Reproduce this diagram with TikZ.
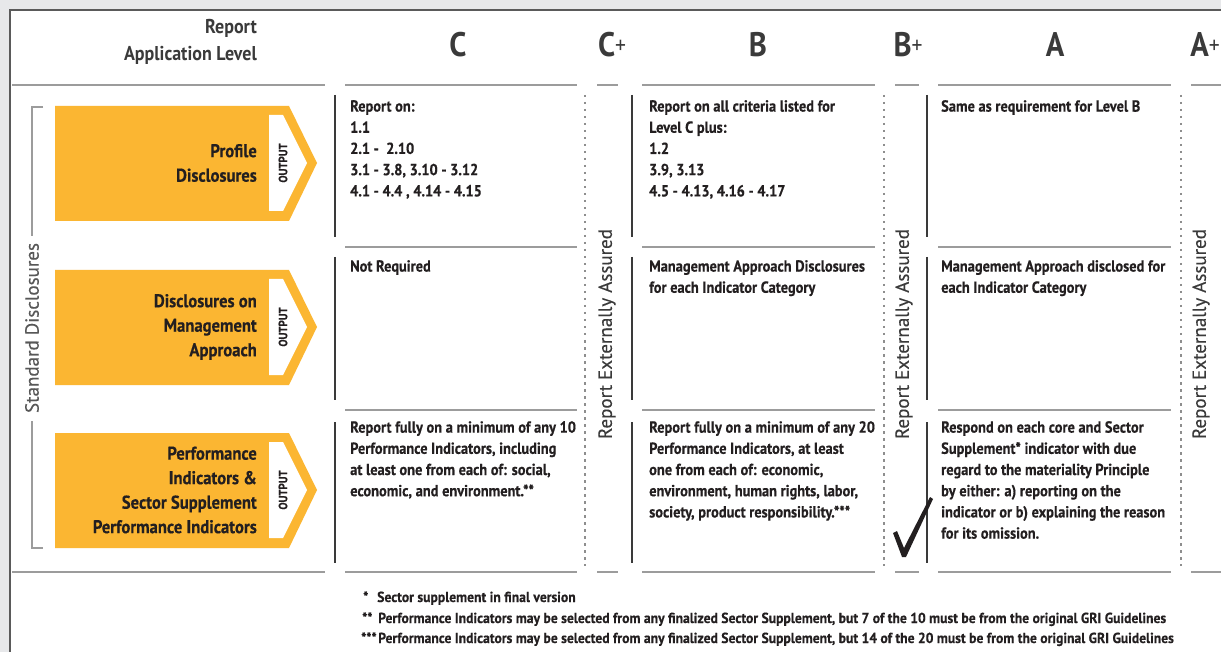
\documentclass[tikz,border=0pt]{standalone}
\usepackage{fontspec}
\setmainfont{PT Sans}[FakeStretch=0.9,BoldFeatures={FakeBold=0.4}]
\newfontfamily\rotfont{PT Sans}[FakeStretch=1.0,FakeBold=0.25]
\newfontfamily\hdrfont{PT Sans}[FakeStretch=0.9]
\newfontfamily\footfont{PT Sans}[FakeStretch=0.94,BoldFeatures={FakeBold=0.4}]
\definecolor{bggray}{HTML}{E7E8EA}
\definecolor{panelline}{HTML}{5A5A5A}
\definecolor{orangeC}{HTML}{FBB632}
\definecolor{txt}{HTML}{231F20}
\definecolor{hdrtxt}{HTML}{3A3A3A}
\definecolor{linegray}{HTML}{9C9C9C}
\definecolor{vline}{HTML}{3A3A3A}
\definecolor{dotgray}{HTML}{8E8E8E}
\tikzset{
  hline/.style={draw=linegray,line width=2pt},
  vsolid/.style={draw=vline,line width=1.6pt},
  vdot/.style={draw=dotgray,line width=1.5pt,dash pattern=on 2.5pt off 4.5pt},
  bracketline/.style={draw=linegray,line width=1.6pt},
  hdr/.style={font=\hdrfont\fontsize{34}{34}\selectfont\bfseries,text=hdrtxt,inner sep=0pt},
  cell/.style={font=\fontsize{16}{21.2}\selectfont\bfseries,text=txt,align=left,anchor=north west,inner sep=0pt},
  boxlabel/.style={font=\fontsize{18.5}{24.5}\selectfont\bfseries,text=txt,align=right,anchor=east,inner sep=0pt},
  outtxt/.style={font=\fontsize{12}{12}\selectfont\bfseries,text=txt,rotate=90,inner sep=0pt},
  rottxt/.style={font=\rotfont\fontsize{19}{19}\selectfont,text=hdrtxt,rotate=90,inner sep=0pt},
  foot/.style={font=\footfont\fontsize{14.5}{14.5}\selectfont\bfseries,text=txt,anchor=base west,inner sep=0pt},
}
\newcommand{\plusmark}{\raisebox{3pt}{\hdrfont\fontsize{24}{24}\selectfont\mdseries +}}
\begin{document}
\begin{tikzpicture}[x=1pt,y=-1pt]
\useasboundingbox (0,0) rectangle (1221,652);
\fill[bggray] (0,0) rectangle (1221,652);
\fill[white] (10,10) rectangle (1221,652);
\draw[panelline,line width=1.5pt] (10,652) -- (10,10) -- (1221,10);

% header
\node[font=\hdrfont\fontsize{20}{27}\selectfont\bfseries,text=hdrtxt,align=right,anchor=east,inner sep=0pt] (applevel) at (257,42) {Report\\Application Level};
\node[hdr] (hC) at (458,45) {C};
\node[hdr] (hCp) at (612,45) {C\plusmark};
\node[hdr] (hB) at (758,45) {B};
\node[hdr] (hBp) at (908,45) {B\plusmark};
\node[hdr] (hA) at (1055,45) {A};
\node[hdr] (hAp) at (1205,45) {A\plusmark};

% horizontal lines
\foreach \y in {85,572}{
  \foreach \a/\b in {12/325,345/577,597/618,642/875,895/919,938/1171,1191/1221}
    \draw[hline] (\a,\y) -- (\b,\y);
}
\foreach \y in {247,410}{
  \foreach \a/\b in {345/577,642/875,938/1171}
    \draw[hline] (\a,\y) -- (\b,\y);
}
% vertical lines
\foreach \x in {335,632,927}{
  \foreach \a/\b in {95/237,257/400,422/563}
    \draw[vsolid] (\x,\a) -- (\x,\b);
}
\foreach \x in {585,884,1181}
  \draw[vdot] (\x,95) -- (\x,566);

% externally assured
\node[rottxt] (eaC) at (607,334) {Report Externally Assured};
\node[rottxt] (eaB) at (904,334) {Report Externally Assured};
\node[rottxt] (eaA) at (1201,334) {Report Externally Assured};

% standard disclosures bracket
\draw[bracketline] (43,107) -- (32,107) -- (32,236);
\draw[bracketline] (32,421) -- (32,548) -- (43,548);
\node[rottxt,text=hdrtxt!85] (sd) at (32,328) {Standard Disclosures};

% orange boxes
\foreach \t/\n in {106/1,270/2,433/3}{
  \fill[orangeC] (55,\t) -- (289,\t) -- (317,\t+57) -- (289,\t+115) -- (55,\t+115) -- cycle;
  \fill[white] (269,\t+9) -- (283,\t+9) -- (307,\t+57) -- (283,\t+105) -- (269,\t+105) -- cycle;
  \node[outtxt] (out\n) at (283,\t+57) {OUTPUT};
}
\node[boxlabel] (lab1) at (257,163) {Profile\\Disclosures};
\node[boxlabel] (lab2) at (257,327) {Disclosures on\\Management\\Approach};
\node[boxlabel] (lab3) at (257,490) {Performance\\Indicators \&\\Sector Supplement\\Performance Indicators};

% cells
\node[cell] (c1) at (350,100) {Report on:\\1.1\\2.1 -\ \ 2.10\\3.1 - 3.8, 3.10 - 3.12\\4.1 - 4.4 , 4.14 - 4.15};
\node[cell] (b1) at (649,100) {Report on all criteria listed for\\Level C plus:\\1.2\\3.9, 3.13\\4.5 - 4.13, 4.16 - 4.17};
\node[cell] (a1) at (941,100) {Same as requirement for Level B};
\node[cell] (c2) at (350,260) {Not Required};
\node[cell] (b2) at (649,260) {Management Approach Disclosures\\for each Indicator Category};
\node[cell] (a2) at (941,260) {Management Approach disclosed for\\each Indicator Category};
\node[cell] (c3) at (350,421) {Report fully on a minimum of any 10\\Performance Indicators, including\\at least one from each of: social,\\economic, and environment.**};
\node[cell] (b3) at (649,421) {Report fully on a minimum of any 20\\Performance Indicators, at least\\one from each of: economic,\\environment, human rights, labor,\\society, product responsibility.***};
\node[cell] (a3) at (941,421) {Respond on each core and Sector\\Supplement* indicator with due\\regard to the materiality Principle\\by either: a) reporting on the\\indicator or b) explaining the reason\\for its omission.};

% check mark
\fill[txt] (893,533) -- (897,531) -- (904,548) -- (930,497) -- (933,499) -- (906,557) -- (902,557) -- cycle;

% footnotes
\node[foot] (f1m) at (363,602) {*};
\node[foot] (f1) at (377,602) {Sector supplement in final version};
\node[foot] (f2m) at (362,623) {**};
\node[foot] (f2) at (378,623) {Performance Indicators may be selected from any finalized Sector Supplement, but 7 of the 10 must be from the original GRI Guidelines};
\node[foot] (f3m) at (361,643) {***};
\node[foot] (f3) at (378,643) {Performance Indicators may be selected from any finalized Sector Supplement, but 14 of the 20 must be from the original GRI Guidelines};
\end{tikzpicture}
\end{document}
